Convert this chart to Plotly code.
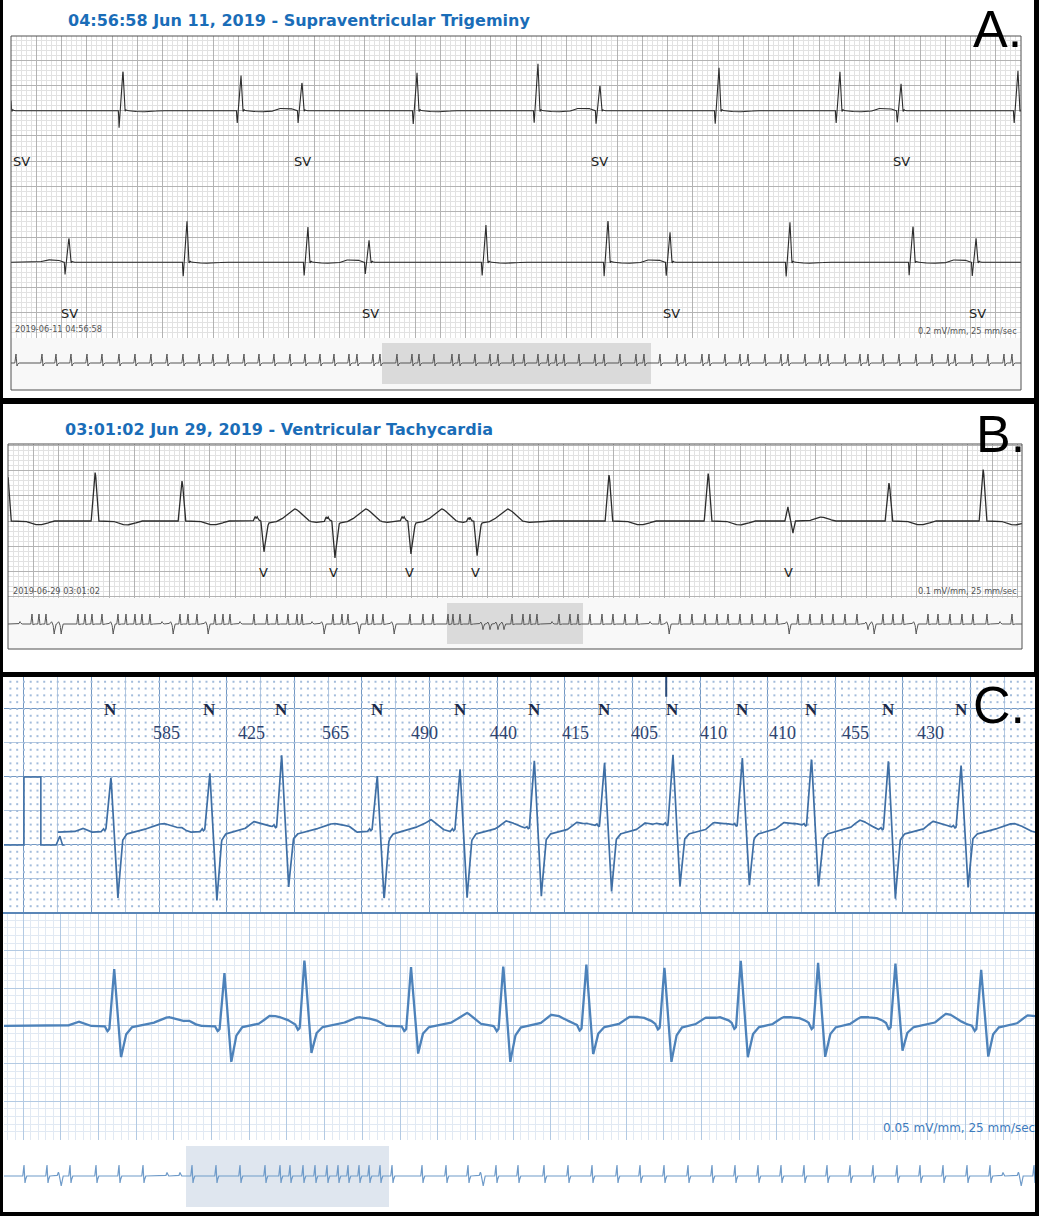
import numpy as np
import plotly.graph_objects as go

W, H = 1039, 1216

# ====================== Panel A : Supraventricular trigeminy ======================
A_TITLE = "04:56:58 Jun 11, 2019 - Supraventricular Trigeminy"
A_STAMP = "2019-06-11 04:56:58"
A_SCALE = "0.2 mV/mm, 25 mm/sec"
# beat times (s), beat class, R height (mV), Q/S depth (mV)
A_ROW1_T = [-0.010, 0.887, 1.822, 2.305, 3.216, 4.174, 4.665, 5.608, 6.566, 7.050, 7.976]
A_ROW1_TYPE = ["SV", "N", "N", "SV", "N", "N", "SV", "N", "N", "SV", "N"]
A_ROW1_R = [1.10, 1.62, 1.39, 1.15, 1.50, 1.86, 1.03, 1.70, 1.54, 1.07, 1.58]
A_ROW1_S = [0.50, 0.67, 0.55, 0.48, 0.59, 0.55, 0.51, 0.59, 0.55, 0.51, 0.55]
A_ROW2_T = [0.459, 1.394, 2.352, 2.836, 3.762, 4.729, 5.220, 6.170, 7.145, 7.644]
A_ROW2_TYPE = ["SV", "N", "N", "SV", "N", "N", "SV", "N", "N", "SV"]
A_ROW2_R = [0.99, 1.62, 1.39, 0.87, 1.47, 1.70, 1.19, 1.58, 1.47, 0.95]
A_ROW2_S = [0.48, 0.63, 0.59, 0.51, 0.59, 0.55, 0.59, 0.63, 0.51, 0.59]
A_STRIP_T = [0.5, 3.1, 4.5, 6.0, 7.6, 9.1, 10.8, 12.4, 14.0, 15.6, 17.2, 18.8, 20.2, 21.7,
             23.3, 24.8, 26.3, 27.9, 29.4, 30.9, 32.3, 33.8, 34.6, 36.2, 36.9, 38.6, 40.1,
             40.8, 42.3, 44.1, 44.8, 46.4, 47.9, 48.7, 50.2, 51.3, 52.7, 53.7, 54.5, 55.3,
             56.8, 58.4, 59.3, 60.9, 62.5, 63.3, 64.9, 66.6, 67.4, 69.1, 69.8, 71.4, 72.9,
             73.7, 75.4, 77.0, 77.7, 79.4, 80.9, 81.7, 83.4, 84.9, 85.7, 87.2, 88.8, 90.5,
             92.1, 93.7, 94.4, 96.1, 97.7, 99.3, 100.1]
A_STRIP_VIEW = [37.1, 64.0]

# ====================== Panel B : Ventricular tachycardia ======================
B_TITLE = "03:01:02 Jun 29, 2019 - Ventricular Tachycardia"
B_STAMP = "2019-06-29 03:01:02"
B_SCALE = "0.1 mV/mm, 25 mm/sec"
B_T = [-0.004, 0.689, 1.378, 2.028, 2.590, 3.192, 3.715, 4.760, 5.545, 6.194, 6.978, 7.723]
B_TYPE = ["N", "N", "N", "V", "V", "V", "V", "N", "N", "v", "N", "N"]
B_AMP = [0.91, 0.97, 0.79, 0.61, 0.73, 0.65, 0.71, 0.91, 0.95, 0.28, 0.75, 1.03]
B_STRIP_T = [1.2, 2.4, 3.1, 3.8, 4.5, 5.2, 7.0, 7.7, 8.4, 9.4, 10.4, 11.0, 11.8, 12.7, 13.4,
             14.2, 15.4, 16.4, 17.2, 18.0, 18.9, 19.9, 20.7, 21.5, 22.2, 23.2, 24.6, 25.9,
             26.9, 28.0, 28.9, 29.4, 30.4, 31.5, 32.5, 33.4, 34.0, 35.0, 35.9, 36.5, 37.5,
             38.5, 40.2, 41.5, 42.5, 44.0, 44.5, 45.2, 46.2, 47.4, 48.1, 48.9, 49.5, 50.4,
             51.5, 52.2, 52.9, 54.4, 55.1, 56.2, 57.0, 58.2, 59.4, 60.5, 61.7, 62.9, 64.2,
             65.2, 66.0, 67.2, 68.4, 69.7, 70.9, 72.0, 73.2, 74.4, 75.7, 76.9, 78.0, 79.0,
             80.2, 81.4, 82.5, 83.7, 84.9, 85.9, 86.5, 87.5, 88.5, 89.5, 90.7, 92.0, 93.0,
             94.2, 95.4, 96.5, 97.9, 99.2, 100.4]
B_STRIP_TYPE = ["s", "N", "N", "N", "V", "V", "N", "N", "N", "N", "V", "N", "N", "N", "N",
                "N", "s", "V", "N", "N", "N", "V", "N", "N", "N", "s", "N", "N",
                "N", "N", "N", "N", "s", "V", "N", "N", "N", "V", "N", "N", "N",
                "V", "N", "N", "N", "N", "N", "N", "N", "r", "r", "r", "r", "N",
                "N", "N", "N", "s", "N", "N", "N", "N", "N", "N", "N", "N", "s",
                "N", "V", "N", "N", "N", "N", "N", "N", "N", "N", "N", "V", "N",
                "N", "N", "N", "N", "N", "r", "V", "N", "N", "N", "V", "N", "N",
                "N", "N", "N", "N", "s", "N"]
B_STRIP_VIEW = [43.9, 57.5]

# ====================== Panel C : annotated rhythm strip ======================
C_FIRST_BEAT = 0.515
C_RR_MS = [585, 425, 565, 490, 440, 415, 405, 410, 410, 455, 430]
C_TOP_R = [1.00, 1.06, 1.32, 1.04, 1.13, 1.25, 1.21, 1.31, 1.28, 1.26, 1.25, 1.18]
C_TOP_S = [-0.78, -0.84, -0.63, -0.81, -0.81, -0.76, -0.71, -0.63, -0.62, -0.63, -0.79, -0.63]
C_TOP_BASELINE = 0.19
C_TRACE_START = 0.20
C_CAL_T = [-0.12, 0.0, 0.0, 0.10, 0.10, 0.19, 0.213, 0.228, 0.24]
C_CAL_V = [0.0, 0.0, 1.0, 1.0, 0.0, 0.0, 0.13, 0.0, 0.0]
C_EVENT_T = 3.80
C_BOT_R = [0.39, 0.36, 0.44, 0.40, 0.40, 0.42, 0.39, 0.43, 0.42, 0.42, 0.38, 0.40]
C_BOT_S = [0.21, 0.24, 0.18, 0.19, 0.24, 0.19, 0.24, 0.21, 0.21, 0.17, 0.21, 0.21]
C_SCALE = "0.05 mV/mm, 25 mm/sec"
C_STRIP_T = [2.0, 4.3, 5.6, 6.6, 9.2, 11.5, 13.9, 16.3, 17.6, 18.8, 21.2, 23.6, 26.1, 27.6,
             28.6, 29.9, 31.1, 32.3, 33.4, 34.4, 35.5, 36.5, 37.6, 38.8, 41.8, 44.2, 46.4,
             47.8, 49.2, 51.4, 54.0, 56.4, 58.8, 61.3, 63.6, 66.0, 68.4, 70.8, 73.1, 75.4,
             77.7, 80.0, 82.3, 84.6, 86.9, 89.3, 91.6, 93.9, 96.3, 98.6, 99.9, 101.6, 103.0]
C_STRIP_TYPE = ["N", "N", "v", "N", "N", "N", "N", "s", "s", "N", "N", "N", "N", "N",
                "N", "N", "N", "N", "N", "N", "N", "N", "N", "N", "N", "N", "N",
                "v", "N", "N", "N", "N", "N", "N", "N", "N", "N", "N", "N", "N",
                "N", "N", "N", "N", "N", "N", "N", "N", "N", "N", "s", "v", "N"]
C_STRIP_VIEW = [18.2, 38.5]


# ------------------------------------------------------------------ helpers
def fx(p):
    return p / W


def fy(p):
    return 1 - p / H


def wave(t, parts):
    y = np.zeros_like(t)
    for t0, dts, vs in parts:
        y += np.interp(t, np.asarray(dts, float) + t0, np.asarray(vs, float), left=0.0, right=0.0)
    return y


def a_parts(times, kinds, rs, ss):
    out = []
    for t0, k, r, s in zip(times, kinds, rs, ss):
        out.append((t0, [-0.036, -0.031, 0.0, 0.016, 0.024, 0.036], [0, -s, r, -0.03, 0.04, 0]))
        if k == "SV":
            out.append((t0, [-0.24, -0.18, -0.09, -0.05], [0, 0.09, 0.10, 0]))
        else:
            out.append((t0, [0.06, 0.12, 0.22, 0.28], [0, -0.04, -0.04, 0]))
    return out


def b_parts(times, kinds, amps):
    out = []
    for t0, k, a in zip(times, kinds, amps):
        if k == "N":
            out.append((t0, [-0.03, -0.016, -0.006, 0.0, 0.006, 0.016, 0.03],
                        [0, 0.5 * a, 0.93 * a, a, 0.93 * a, 0.45 * a, 0]))
            out.append((t0, [0.14, 0.2, 0.25, 0.3, 0.36], [0, -0.06, -0.08, -0.06, 0]))
        elif k == "V":
            out.append((t0, [-0.085, -0.07, -0.062, -0.055, -0.045, -0.025, -0.01, 0.0, 0.012,
                             0.035, 0.08, 0.13, 0.18, 0.22, 0.245, 0.27, 0.31, 0.36, 0.40,
                             0.46, 0.52],
                        [0, 0.09, 0.05, 0.09, 0.02, 0.0, -0.6 * a, -a, -0.6 * a,
                         -0.04, -0.03, 0.02, 0.12, 0.21, 0.24, 0.21, 0.11, 0.0, -0.03,
                         -0.02, 0]))
        else:
            out.append((t0, [-0.04, -0.016, -0.004, 0.006, 0.024, 0.04, 0.15, 0.21, 0.25,
                             0.29, 0.35],
                        [0, a, 0.3 * a, 0, -0.85 * a, 0, 0, 0.06, 0.08, 0.06, 0]))
    return out


def ctop_parts(times, rs, ss):
    out = []
    for t0, r, s in zip(times, rs, ss):
        R = r - C_TOP_BASELINE
        S = s - C_TOP_BASELINE
        out.append((t0, [-0.22, -0.17, -0.12, -0.06, -0.045, -0.038, -0.03, 0.0, 0.041, 0.055,
                         0.07, 0.09, 0.14, 0.2, 0.26, 0.31, 0.35, 0.39, 0.43],
                    [0, 0.06, 0, 0, 0.05, 0.02, 0.04, R, S, 0.5 * S, 0.12 * S, -0.03, 0.0,
                     0.04, 0.10, 0.13, 0.10, 0.04, 0]))
    return out


def cbot_parts(times, rs, ss):
    out = []
    for t0, r, s in zip(times, rs, ss):
        out.append((t0, [-0.25, -0.19, -0.13, -0.05, -0.035, -0.025, 0.0, 0.037, 0.06, 0.09,
                         0.13, 0.2, 0.25, 0.29, 0.33, 0.37, 0.42],
                    [0, 0.03, 0, 0, -0.035, -0.02, r, -s, -0.3 * s, -0.01, 0, 0.015, 0.045,
                     0.06, 0.045, 0.015, 0]))
    return out


def strip_parts(times, kinds, shapes):
    return [(t0, shapes[k][0], shapes[k][1]) for t0, k in zip(times, kinds)]


# ------------------------------------------------------------------ signals
tA = np.linspace(0, 8.0, 4001)
yA1 = 9 + wave(tA, a_parts(A_ROW1_T, A_ROW1_TYPE, A_ROW1_R, A_ROW1_S))
yA2 = 3 + wave(tA, a_parts(A_ROW2_T, A_ROW2_TYPE, A_ROW2_R, A_ROW2_S))
tSA = np.linspace(0, 101, 5051)
ySA = wave(tSA, strip_parts(A_STRIP_T, ["N"] * len(A_STRIP_T),
                            {"N": ([-0.12, 0, 0.1, 0.22], [0, 0.45, -0.15, 0])}))

tB = np.linspace(0, 8.032, 4017)
yB = wave(tB, b_parts(B_T, B_TYPE, B_AMP))
tSB = np.linspace(0, 101.4, 5071)
ySB = wave(tSB, strip_parts(B_STRIP_T, B_STRIP_TYPE, {
    "N": ([-0.12, 0, 0.1, 0.22], [0, 0.5, -0.05, 0]),
    "V": ([-0.3, -0.15, 0, 0.12, 0.25], [0, 0.12, 0, -0.5, 0]),
    "r": ([-0.25, -0.12, 0, 0.1, 0.22], [0, 0.1, 0, -0.28, 0]),
    "s": ([-0.12, 0, 0.12], [0, 0.12, 0]),
}))

c_times = np.concatenate([[C_FIRST_BEAT], C_FIRST_BEAT + np.cumsum(C_RR_MS) / 1000.0])
tCt = np.linspace(C_TRACE_START, 5.982, 3200)
yCt = C_TOP_BASELINE + wave(tCt, ctop_parts(c_times, C_TOP_R, C_TOP_S))
tCb = np.linspace(-0.069, 5.401, 3200)
yCb = wave(tCb, cbot_parts(c_times, C_BOT_R, C_BOT_S))
tSC = np.linspace(0, 103.1, 5156)
ySC = wave(tSC, strip_parts(C_STRIP_T, C_STRIP_TYPE, {
    "N": ([-0.12, 0, 0.1, 0.22], [0, 0.55, -0.35, 0]),
    "v": ([-0.3, -0.15, 0, 0.12, 0.25], [0, 0.2, -0.1, -0.5, 0]),
    "s": ([-0.12, 0, 0.12], [0, 0.18, 0]),
}))

# dot lattice of the printed paper (panel C, top)
gx, gy = np.meshgrid(np.arange(-2, 150) * 0.04, np.arange(-9, 25) * 0.1)

fig = go.Figure()
hv = dict(hoverinfo="skip", showlegend=False)
fig.add_trace(go.Scatter(x=tA, y=yA1, mode="lines", line=dict(color="#2d2d2d", width=1.1),
                         xaxis="x", yaxis="y", **hv))
fig.add_trace(go.Scatter(x=tA, y=yA2, mode="lines", line=dict(color="#2d2d2d", width=1.1),
                         xaxis="x", yaxis="y", **hv))
fig.add_trace(go.Scatter(x=tSA, y=ySA, mode="lines", line=dict(color="#555555", width=1),
                         xaxis="x2", yaxis="y2", **hv))
fig.add_trace(go.Scatter(x=tB, y=yB, mode="lines", line=dict(color="#2d2d2d", width=1.3),
                         xaxis="x3", yaxis="y3", **hv))
fig.add_trace(go.Scatter(x=tSB, y=ySB, mode="lines", line=dict(color="#555555", width=1),
                         xaxis="x4", yaxis="y4", **hv))
fig.add_trace(go.Scatter(x=gx.ravel(), y=gy.ravel(), mode="markers",
                         marker=dict(color="#a3bcdb", size=2, symbol="square"),
                         xaxis="x5", yaxis="y5", **hv))
fig.add_trace(go.Scatter(x=C_CAL_T, y=C_CAL_V, mode="lines", line=dict(color="#3f6fa5", width=1.6),
                         xaxis="x5", yaxis="y5", **hv))
fig.add_trace(go.Scatter(x=tCt, y=yCt, mode="lines", line=dict(color="#3f6fa5", width=1.7),
                         xaxis="x5", yaxis="y5", **hv))
fig.add_trace(go.Scatter(x=tCb, y=yCb, mode="lines", line=dict(color="#4d82ba", width=2.3),
                         xaxis="x6", yaxis="y6", **hv))
fig.add_trace(go.Scatter(x=tSC, y=ySC, mode="lines", line=dict(color="#6f9bc9", width=1.2),
                         xaxis="x7", yaxis="y7", **hv))


# ------------------------------------------------------------------ axes
def ax(px0, px1, rng, horizontal, **kw):
    dom = [fx(px0), fx(px1)] if horizontal else [fy(px1), fy(px0)]
    d = dict(domain=dom, range=rng, showticklabels=False, ticks="", zeroline=False,
             showline=False, fixedrange=True, showgrid=False)
    d.update(kw)
    return d


def grid(dt, mdt, col, mcol, t0=0.0, w=1.0):
    return dict(showgrid=True, tick0=t0, dtick=dt, gridcolor=col, gridwidth=w,
                minor=dict(tick0=t0, dtick=mdt, showgrid=True, gridcolor=mcol, gridwidth=1))


GA = ("#b3b3b3", "#e2e2e2")
layout_axes = dict(
    xaxis=ax(11, 1021, [0, 8.0], True, anchor="y", **grid(0.2, 0.04, *GA)),
    yaxis=ax(36, 338, [0, 11.96], False, anchor="x", **grid(1.0, 0.2, *GA)),
    xaxis2=ax(11, 1021, [0, 101], True, anchor="y2"),
    yaxis2=ax(338, 390, [-1.35, 1.25], False, anchor="x2"),
    xaxis3=ax(8, 1022, [0, 8.032], True, anchor="y3", **grid(0.2, 0.04, *GA)),
    yaxis3=ax(444, 598, [-1.525, 1.525], False, anchor="x3", **grid(0.5, 0.1, *GA)),
    xaxis4=ax(8, 1022, [0, 101.4], True, anchor="y4"),
    yaxis4=ax(598, 649, [-1.25, 1.3], False, anchor="x4"),
    xaxis5=ax(4, 1035, [-0.118, 5.982], True, anchor="y5",
              **grid(0.4, 0.2, "#7398c2", "#b3c8e0", w=1.3)),
    yaxis5=ax(677, 913, [-1.0, 2.47], False, anchor="x5",
              **grid(1.0, 0.5, "#7398c2", "#b3c8e0", w=1.3)),
    xaxis6=ax(4, 1035, [-0.069, 5.401], True, anchor="y6",
              **grid(0.2, 0.04, "#b3cae3", "#e1e9f3", t0=0.032)),
    yaxis6=ax(913, 1140, [-0.756, 0.749], False, anchor="x6",
              **grid(0.25, 0.05, "#b3cae3", "#e1e9f3")),
    xaxis7=ax(4, 1035, [0, 103.1], True, anchor="y7"),
    yaxis7=ax(1140, 1212, [-1.8, 1.8], False, anchor="x7"),
)


# ------------------------------------------------------------------ shapes
def prect(x0, y0, x1, y1, fill=None, line=None, layer="below"):
    d = dict(type="rect", xref="paper", yref="paper", x0=fx(x0), x1=fx(x1), y0=fy(y1), y1=fy(y0),
             layer=layer, line=dict(width=0))
    if fill:
        d["fillcolor"] = fill
    if line:
        d["line"] = line
    return d


shapes = [
    prect(3, 0, 1034, 398, fill="white"),
    prect(3, 404, 1034, 672, fill="white"),
    prect(3, 677, 1035, 1212, fill="white"),
    prect(11, 338, 1021, 390, fill="#f8f8f8"),
    prect(8, 598, 1022, 649, fill="#f8f8f8"),
    dict(type="rect", xref="x2", yref="y2", x0=A_STRIP_VIEW[0], x1=A_STRIP_VIEW[1], y0=-1.05, y1=1.0,
         fillcolor="#dadada", line=dict(width=0), layer="below"),
    dict(type="rect", xref="x4", yref="y4", x0=B_STRIP_VIEW[0], x1=B_STRIP_VIEW[1], y0=-1.0, y1=1.05,
         fillcolor="#dadada", line=dict(width=0), layer="below"),
    dict(type="rect", xref="x7", yref="y7", x0=C_STRIP_VIEW[0], x1=C_STRIP_VIEW[1], y0=-1.55, y1=1.5,
         fillcolor="#dfe6ef", line=dict(width=0), layer="below"),
    prect(11, 36, 1021, 390, line=dict(color="#505050", width=1), layer="above"),
    prect(8, 444, 1022, 649, line=dict(color="#505050", width=1), layer="above"),
    dict(type="line", xref="paper", yref="paper", x0=fx(3), x1=fx(1035), y0=fy(913), y1=fy(913),
         line=dict(color="#5a86b7", width=2), layer="above"),
    dict(type="line", xref="x5", yref="y5", x0=C_EVENT_T, x1=C_EVENT_T, y0=2.18, y1=2.47,
         line=dict(color="#2a4a78", width=2)),
]


# ------------------------------------------------------------------ text
def ann(text, x, y, size, color, family="DejaVu Sans", xanchor="center", yanchor="middle",
        xref="paper", yref="paper"):
    return dict(text=text, x=x, y=y, xref=xref, yref=yref, showarrow=False, xanchor=xanchor,
                yanchor=yanchor, font=dict(size=size, color=color, family=family))


TITLE_BLUE = "#1a6db8"
anns = [
    ann("<b>" + A_TITLE + "</b>", fx(66), fy(20), 16, TITLE_BLUE, xanchor="left"),
    ann("<b>" + B_TITLE + "</b>", fx(63), fy(429), 16, TITLE_BLUE, xanchor="left"),
    ann(A_STAMP, fx(13), fy(329), 8.2, "#555555", xanchor="left"),
    ann(B_STAMP, fx(11), fy(591), 8.2, "#555555", xanchor="left"),
    ann(A_SCALE, fx(1019), fy(331), 8.2, "#555555", xanchor="right"),
    ann(B_SCALE, fx(1019), fy(591), 8.2, "#555555", xanchor="right"),
    ann(C_SCALE, fx(881), fy(1128), 12, "#3d7bbd", xanchor="left"),
]
for t0, k in zip(A_ROW1_T, A_ROW1_TYPE):
    if k == "SV":
        anns.append(ann("SV", max(t0, 0.08), 9 - 2.02, 13, "#222222", xref="x", yref="y"))
for t0, k in zip(A_ROW2_T, A_ROW2_TYPE):
    if k == "SV":
        anns.append(ann("SV", t0 + 0.008, 3 - 2.02, 13, "#222222", xref="x", yref="y"))
for t0, k in zip(B_T, B_TYPE):
    if k in ("V", "v"):
        anns.append(ann("V", t0 - 0.008, -1.01, 13, "#222222", xref="x3", yref="y3"))
for t0 in c_times:
    anns.append(ann("<b>N</b>", t0, 1.99, 17, "#1b2a4a", family="Liberation Serif",
                    xref="x5", yref="y5"))
for i, rr in enumerate(C_RR_MS):
    mid = (c_times[i] + c_times[i + 1]) / 2 + 0.035
    anns.append(ann(str(rr), mid, 1.65, 18, "#2f4470", family="Liberation Serif",
                    xref="x5", yref="y5"))
for letter, x, y in (("A.", 971, 29), ("B.", 974, 434), ("C.", 971, 705)):
    anns.append(ann(letter, fx(x), fy(y), 52, "black", family="Liberation Sans", xanchor="left"))

fig.update_layout(
    width=W, height=H, margin=dict(l=0, r=0, t=0, b=0, pad=0),
    paper_bgcolor="black", plot_bgcolor="rgba(0,0,0,0)", showlegend=False,
    shapes=shapes, annotations=anns, **layout_axes,
)

fig.write_html("out.html", config={"displayModeBar": False},
               post_script="document.body.style.margin='0';document.body.style.overflow='hidden';")
